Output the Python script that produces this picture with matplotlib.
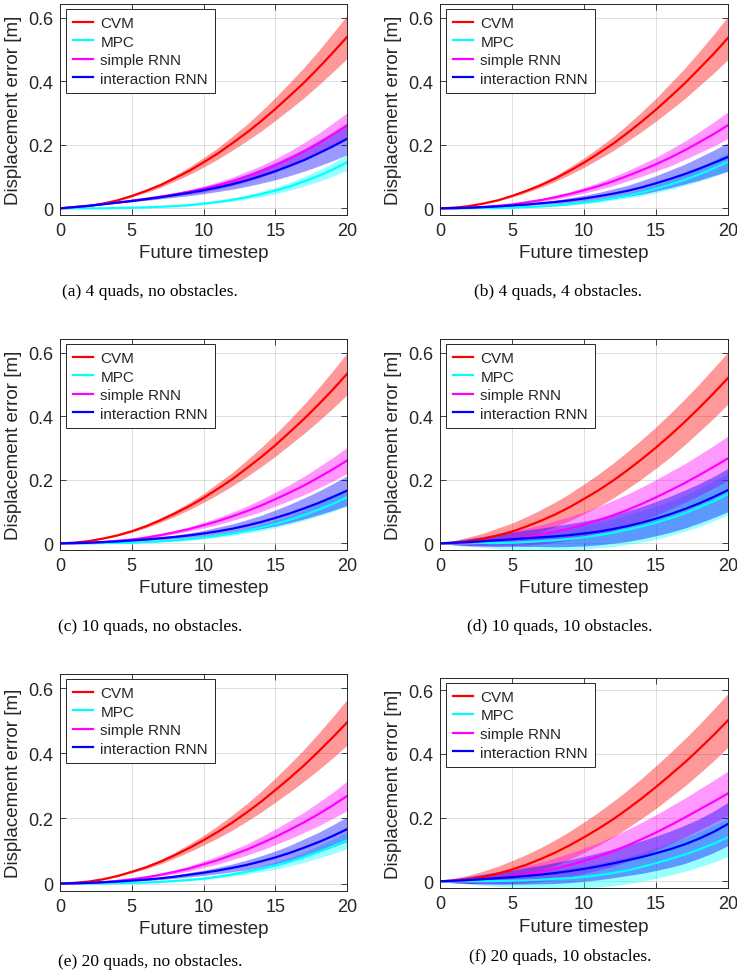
import numpy as np
import matplotlib
matplotlib.use("Agg")
import matplotlib.pyplot as plt

# ---------------------------------------------------------------------------
# Data: mean displacement error and half-width of the shaded band, per step
# ---------------------------------------------------------------------------
timesteps = list(range(21))
methods = ["CVM", "MPC", "simple RNN", "interaction RNN"]
colors = ["#ff0000", "#00ffff", "#ff00ff", "#0000ff"]
captions = [
    "(a) 4 quads, no obstacles.",
    "(b) 4 quads, 4 obstacles.",
    "(c) 10 quads, no obstacles.",
    "(d) 10 quads, 10 obstacles.",
    "(e) 20 quads, no obstacles.",
    "(f) 20 quads, 10 obstacles.",
]
x_ticks = [0, 5, 10, 15, 20]
y_ticks = [0, 0.2, 0.4, 0.6]
y_tick_labels = ["0", "0.2", "0.4", "0.6"]

# (a) 4 quads, no obstacles
cvm_a = [0, .002, .007, .015, .025, .039, .055, .073, .095, .118, .145, .173, .205, .238, .274, .313, .354, .396, .442, .490, .540]
cvm_a_sd = [0, .000, .000, .001, .002, .003, .005, .007, .009, .012, .015, .018, .022, .026, .031, .036, .042, .048, .054, .061, .068]
mpc_a = [0, .000, .000, .000, .001, .002, .003, .005, .007, .010, .015, .020, .027, .035, .045, .056, .069, .085, .102, .122, .145]
mpc_a_sd = [0, .000, .000, .000, .000, .000, .000, .001, .001, .002, .003, .003, .005, .006, .008, .010, .012, .015, .018, .021, .025]
srnn_a = [0, .004, .008, .013, .018, .024, .030, .037, .044, .052, .061, .072, .085, .100, .116, .135, .156, .179, .204, .232, .261]
srnn_a_sd = [0, .000, .000, .001, .001, .002, .003, .004, .005, .007, .009, .011, .013, .016, .018, .021, .024, .028, .032, .036, .040]
irnn_a = [0, .004, .008, .013, .018, .023, .029, .035, .042, .049, .057, .066, .076, .088, .102, .117, .134, .152, .173, .195, .219]
irnn_a_sd = [0, .000, .000, .001, .001, .002, .004, .005, .007, .009, .011, .013, .016, .019, .023, .027, .031, .035, .040, .045, .050]

# (b) 4 quads, 4 obstacles
cvm_b = [0, .002, .007, .015, .025, .039, .055, .073, .094, .118, .144, .173, .203, .237, .273, .311, .352, .394, .440, .487, .537]
cvm_b_sd = [0, .000, .000, .001, .002, .003, .005, .007, .009, .012, .015, .018, .022, .026, .031, .036, .042, .048, .054, .061, .068]
mpc_b = [0, .000, .000, .001, .001, .002, .004, .006, .009, .013, .018, .024, .032, .040, .050, .062, .075, .090, .107, .126, .147]
mpc_b_sd = [0, .000, .000, .000, .000, .000, .001, .001, .002, .003, .004, .005, .006, .008, .010, .013, .015, .018, .022, .026, .030]
srnn_b = [0, .000, .002, .004, .008, .012, .019, .026, .035, .045, .057, .070, .085, .102, .120, .139, .160, .183, .208, .234, .262]
srnn_b_sd = [0, .000, .000, .001, .001, .002, .003, .004, .006, .007, .009, .011, .014, .016, .019, .022, .026, .029, .033, .038, .042]
irnn_b = [0, .001, .002, .004, .006, .009, .012, .016, .020, .025, .031, .038, .046, .055, .066, .079, .093, .108, .125, .143, .162]
irnn_b_sd = [0, .000, .000, .001, .001, .002, .003, .004, .006, .008, .010, .012, .015, .017, .021, .024, .028, .031, .036, .040, .045]

# (c) 10 quads, no obstacles
cvm_c = [0, .002, .007, .015, .025, .038, .054, .073, .094, .117, .143, .172, .202, .236, .271, .309, .350, .392, .437, .484, .534]
cvm_c_sd = [0, .000, .000, .001, .002, .003, .005, .007, .009, .011, .014, .018, .021, .026, .030, .035, .040, .046, .052, .059, .066]
mpc_c = [0, .000, .000, .001, .001, .002, .004, .006, .009, .013, .018, .024, .031, .040, .050, .061, .074, .089, .106, .124, .145]
mpc_c_sd = [0, .000, .000, .000, .000, .000, .001, .001, .002, .003, .004, .005, .006, .008, .010, .012, .014, .017, .020, .024, .028]
srnn_c = [0, .000, .002, .004, .008, .012, .018, .026, .035, .045, .057, .070, .085, .101, .119, .139, .160, .182, .207, .233, .261]
srnn_c_sd = [0, .000, .000, .001, .001, .002, .003, .004, .005, .007, .009, .011, .013, .016, .019, .022, .025, .029, .033, .037, .041]
irnn_c = [0, .001, .002, .004, .006, .009, .012, .016, .020, .025, .031, .038, .046, .056, .067, .080, .094, .110, .127, .146, .166]
irnn_c_sd = [0, .000, .000, .001, .001, .002, .003, .005, .006, .008, .010, .013, .015, .018, .021, .025, .029, .033, .037, .042, .047]

# (d) 10 quads, 10 obstacles
cvm_d = [0, .002, .007, .014, .025, .037, .053, .071, .091, .114, .140, .167, .197, .230, .265, .302, .341, .383, .427, .473, .521]
cvm_d_sd = [0, .007, .013, .018, .023, .027, .031, .035, .039, .043, .047, .051, .055, .058, .062, .065, .069, .072, .075, .079, .082]
mpc_d = [0, .000, .000, .001, .001, .002, .004, .007, .010, .014, .019, .026, .033, .043, .053, .065, .079, .095, .113, .133, .155]
mpc_d_sd = [0, .006, .010, .014, .018, .021, .025, .028, .031, .034, .037, .040, .043, .046, .049, .052, .054, .057, .060, .062, .065]
srnn_d = [0, .001, .003, .006, .010, .015, .021, .028, .037, .047, .059, .073, .088, .105, .124, .145, .167, .190, .215, .241, .268]
srnn_d_sd = [0, .006, .011, .015, .019, .023, .027, .030, .034, .037, .040, .043, .047, .050, .053, .056, .059, .061, .064, .067, .070]
irnn_d = [0, .002, .004, .007, .010, .013, .016, .019, .022, .026, .031, .037, .045, .054, .065, .078, .092, .108, .126, .146, .168]
irnn_d_sd = [0, .006, .011, .015, .019, .022, .026, .029, .033, .036, .039, .042, .045, .048, .051, .054, .057, .060, .062, .065, .068]

# (e) 20 quads, no obstacles
cvm_e = [0, .002, .006, .013, .023, .036, .050, .067, .087, .109, .133, .159, .187, .218, .251, .287, .324, .363, .405, .449, .495]
cvm_e_sd = [0, .000, .000, .001, .002, .003, .005, .007, .009, .012, .015, .019, .023, .027, .032, .037, .043, .049, .056, .063, .070]
mpc_e = [0, .000, .000, .000, .001, .002, .003, .005, .008, .011, .015, .021, .028, .036, .045, .055, .067, .081, .097, .114, .133]
mpc_e_sd = [0, .000, .000, .000, .000, .000, .001, .001, .002, .002, .003, .004, .006, .007, .009, .011, .013, .016, .019, .022, .026]
srnn_e = [0, .000, .002, .004, .008, .013, .019, .027, .036, .046, .059, .072, .088, .104, .123, .143, .165, .188, .213, .240, .269]
srnn_e_sd = [0, .000, .000, .001, .001, .002, .003, .004, .006, .008, .010, .012, .015, .017, .021, .024, .028, .031, .036, .040, .045]
irnn_e = [0, .001, .002, .004, .006, .009, .012, .016, .021, .027, .033, .040, .048, .057, .068, .080, .094, .110, .127, .146, .167]
irnn_e_sd = [0, .000, .000, .001, .001, .002, .003, .004, .005, .007, .008, .010, .012, .015, .017, .020, .023, .027, .030, .034, .038]

# (f) 20 quads, 10 obstacles
cvm_f = [0, .002, .006, .014, .024, .037, .052, .070, .090, .113, .138, .165, .194, .226, .260, .296, .334, .373, .415, .459, .505]
cvm_f_sd = [0, .008, .013, .018, .023, .028, .032, .036, .040, .044, .048, .052, .056, .059, .063, .067, .070, .074, .077, .081, .084]
mpc_f = [0, .000, .000, .000, .001, .002, .003, .005, .008, .010, .014, .019, .026, .034, .045, .057, .070, .084, .100, .118, .138]
mpc_f_sd = [0, .005, .009, .013, .017, .020, .023, .026, .029, .032, .034, .037, .040, .042, .045, .048, .050, .053, .055, .058, .060]
srnn_f = [0, .002, .004, .007, .011, .016, .022, .030, .040, .051, .064, .078, .094, .112, .132, .153, .176, .200, .225, .250, .276]
srnn_f_sd = [0, .006, .011, .015, .019, .023, .027, .030, .034, .037, .040, .043, .047, .050, .053, .056, .059, .061, .064, .067, .070]
irnn_f = [0, .002, .004, .007, .010, .013, .017, .021, .026, .032, .039, .047, .056, .066, .076, .088, .101, .116, .134, .155, .180]
irnn_f_sd = [0, .006, .011, .015, .019, .022, .026, .029, .033, .036, .039, .042, .045, .048, .051, .054, .057, .060, .062, .065, .068]

panels = [
    [(cvm_a, cvm_a_sd), (mpc_a, mpc_a_sd), (srnn_a, srnn_a_sd), (irnn_a, irnn_a_sd)],
    [(cvm_b, cvm_b_sd), (mpc_b, mpc_b_sd), (srnn_b, srnn_b_sd), (irnn_b, irnn_b_sd)],
    [(cvm_c, cvm_c_sd), (mpc_c, mpc_c_sd), (srnn_c, srnn_c_sd), (irnn_c, irnn_c_sd)],
    [(cvm_d, cvm_d_sd), (mpc_d, mpc_d_sd), (srnn_d, srnn_d_sd), (irnn_d, irnn_d_sd)],
    [(cvm_e, cvm_e_sd), (mpc_e, mpc_e_sd), (srnn_e, srnn_e_sd), (irnn_e, irnn_e_sd)],
    [(cvm_f, cvm_f_sd), (mpc_f, mpc_f_sd), (srnn_f, srnn_f_sd), (irnn_f, irnn_f_sd)],
]

# ---------------------------------------------------------------------------
# Layout (pixel boxes of each axes: left, right, top, bottom)
# ---------------------------------------------------------------------------
W, H = 737, 979
boxes = [
    (60, 347, 5, 216), (440, 728, 5, 216),
    (60, 347, 340, 551), (440, 728, 340, 551),
    (60, 347, 675, 892), (440, 728, 679, 889),
]
ylims = [(-0.021, 0.644)] * 4 + [(-0.023, 0.644), (-0.021, 0.638)]
caption_pos = [(150, 292), (558, 292), (150, 627), (560, 627), (150, 962), (560, 957)]

plt.rcParams["font.family"] = ["Liberation Sans", "DejaVu Sans"]
fig = plt.figure(figsize=(W / 100, H / 100), dpi=100)

for k, series in enumerate(panels):
    x0, x1, y0, y1 = boxes[k]
    ax = fig.add_axes([x0 / W, 1 - y1 / H, (x1 - x0) / W, (y1 - y0) / H])
    t = np.array(timesteps)
    handles = []
    for (mean, sd), name, col in zip(series, methods, colors):
        m = np.array(mean)
        s = np.array(sd)
        ax.fill_between(t, m - s, m + s, color=col, alpha=0.4, linewidth=0)
        h, = ax.plot(t, m, color=col, linewidth=1.6, label=name)
        handles.append(h)
    ax.set_xlim(0, 20)
    ax.set_ylim(*ylims[k])
    ax.set_xticks(x_ticks)
    ax.set_yticks(y_ticks)
    ax.set_yticklabels(y_tick_labels)
    ax.tick_params(direction="in", top=True, right=True, length=4, width=0.6,
                   labelsize=13, pad=5, colors="#262626")
    ax.tick_params(labelcolor="#262626")
    ax.grid(True, color="#000000", alpha=0.13, linewidth=0.7)
    ax.set_axisbelow(True)
    for sp in ax.spines.values():
        sp.set_linewidth(0.7)
        sp.set_color("#262626")
    ax.set_xlabel("Future timestep", fontsize=13.5, color="#262626", labelpad=4)
    ax.set_ylabel("Displacement error [m]", fontsize=13.5, color="#262626", labelpad=4)
    leg = ax.legend(handles=handles, loc="upper left", bbox_to_anchor=(0.021, 0.976),
                    borderaxespad=0, fontsize=11, handlelength=1.3, handletextpad=0.5,
                    labelspacing=0.3, borderpad=0.45, fancybox=False, framealpha=1)
    leg.get_frame().set_edgecolor("#262626")
    leg.get_frame().set_linewidth(0.7)
    for txt in leg.get_texts():
        txt.set_color("#262626")
    cx, cy = caption_pos[k]
    fig.text(cx / W, 1 - cy / H, captions[k], ha="center", va="center",
             fontsize=12.5, family=["Liberation Serif", "DejaVu Serif"])

fig.savefig("out.png", dpi=100)
